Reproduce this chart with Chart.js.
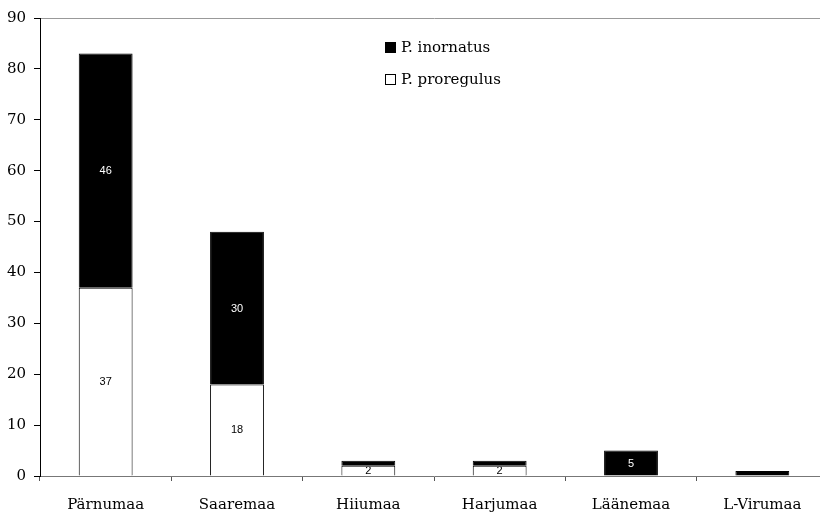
<!DOCTYPE html>
<html>
<head>
<meta charset="utf-8">
<script src="https://cdn.jsdelivr.net/npm/chart.js@4"></script>
<style>
  html, body { margin: 0; padding: 0; background: #fff; overflow: hidden; }
  #wrap { width: 820px; height: 514px; overflow: hidden; }
</style>
</head>
<body>
<div id="wrap"><canvas id="chart" width="830" height="514"></canvas></div>
<script>
// Regions and counts per species
const regions = ['Pärnumaa', 'Saaremaa', 'Hiiumaa', 'Harjumaa', 'Läänemaa', 'L-Virumaa'];
const proregulus = [37, 18, 2, 2, 0, 0];
const inornatus = [46, 30, 1, 1, 5, 1];
const seriesNames = ['P. inornatus', 'P. proregulus'];
const yTicks = [0, 10, 20, 30, 40, 50, 60, 70, 80, 90];

const serif = "'DejaVu Serif', serif";

// Value labels drawn inside each bar segment, clipped to the segment
const barLabels = {
    id: 'barLabels',
    afterDatasetsDraw(chart) {
        const ctx = chart.ctx;
        chart.data.datasets.forEach((ds, di) => {
            const meta = chart.getDatasetMeta(di);
            ctx.save();
            ctx.font = "11px 'Liberation Sans', Arial, sans-serif";
            ctx.textAlign = 'center';
            ctx.textBaseline = 'middle';
            ctx.fillStyle = ds.labelColor;
            meta.data.forEach((el, i) => {
                const v = ds.data[i];
                const top = Math.min(el.y, el.base);
                const h = Math.abs(el.base - el.y);
                if (!v || h < 8) return; // too thin for a label
                ctx.save();
                ctx.beginPath();
                ctx.rect(el.x - el.width / 2, top + 1, el.width, h - 1);
                ctx.clip();
                ctx.fillText(String(v), el.x, top + h / 2 + 0.5);
                ctx.restore();
            });
            ctx.restore();
        });
    }
};

// Legend box inside the plot
const innerLegend = {
    id: 'innerLegend',
    afterDraw(chart) {
        const ctx = chart.ctx;
        const fills = ['#000', '#fff'];
        ctx.save();
        ctx.font = '15px ' + serif;
        ctx.textBaseline = 'middle';
        seriesNames.forEach((name, i) => {
            const y = 42 + i * 32;
            ctx.fillStyle = fills[i];
            ctx.fillRect(385.5, y + 0.5, 10, 10);
            ctx.strokeStyle = '#000';
            ctx.lineWidth = 1;
            ctx.strokeRect(385.5, y + 0.5, 10, 10);
            ctx.fillStyle = '#000';
            ctx.fillText(name, 401, y + 6);
        });
        ctx.restore();
    }
};

new Chart(document.getElementById('chart'), {
    type: 'bar',
    data: {
        labels: regions,
        datasets: [
            {
                label: 'P. proregulus',
                data: proregulus,
                backgroundColor: '#fff',
                borderColor: '#000',
                borderWidth: 1,
                labelColor: '#000'
            },
            {
                label: 'P. inornatus',
                data: inornatus,
                backgroundColor: '#000',
                borderColor: '#000',
                borderWidth: 1,
                labelColor: '#fff'
            }
        ]
    },
    options: {
        responsive: false,
        animation: false,
        layout: { padding: { top: 18, right: 2, left: 0, bottom: 0 } },
        datasets: { bar: { barPercentage: 0.41, categoryPercentage: 1 } },
        plugins: { legend: { display: false }, tooltip: { enabled: false } },
        scales: {
            x: {
                stacked: true,
                afterFit: (s) => { s.height = 38; },
                grid: { offset: true, color: 'rgba(0,0,0,0)', tickColor: '#555', tickLength: 5 },
                border: { color: '#777', width: 1 },
                ticks: { color: '#000', font: { family: serif, size: 15 }, padding: 15, maxRotation: 0 }
            },
            y: {
                stacked: true,
                min: 0,
                max: 90,
                afterFit: (s) => { s.width = 40; },
                afterBuildTicks: (s) => { s.ticks = yTicks.map(v => ({ value: v })); },
                grid: {
                    color: (c) => c.tick && c.tick.value === 90 ? '#999' : 'rgba(0,0,0,0)',
                    tickColor: '#000',
                    tickLength: 6
                },
                border: { color: '#000', width: 1 },
                ticks: { color: '#000', font: { family: serif, size: 15 }, padding: 8 }
            }
        }
    },
    plugins: [barLabels, innerLegend]
});
</script>
</body>
</html>
